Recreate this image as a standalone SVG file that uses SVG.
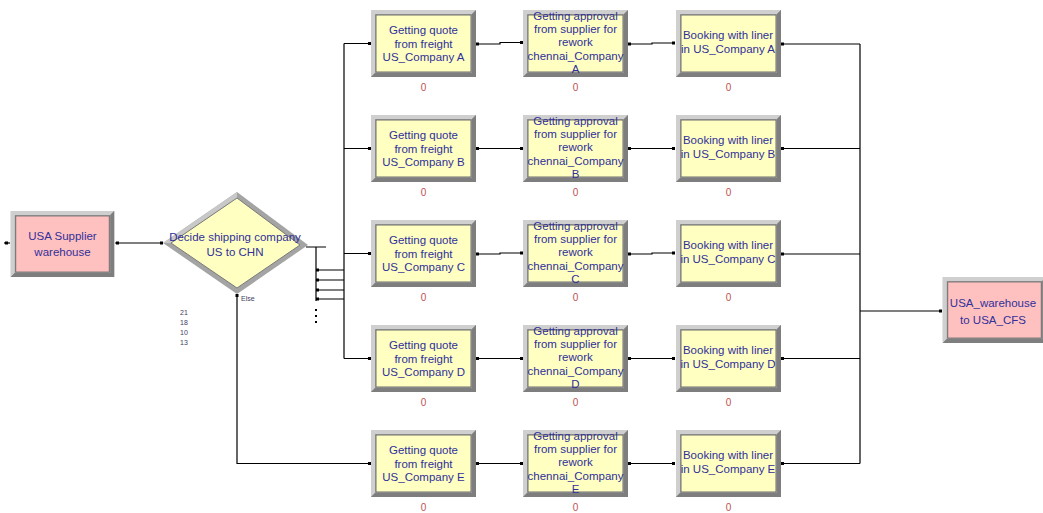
<svg xmlns="http://www.w3.org/2000/svg" xmlns:xlink="http://www.w3.org/1999/xlink" width="1043" height="513" viewBox="0 0 1043 513">
<style>
.t{font-family:"Liberation Sans",Arial,sans-serif;font-size:11.5px;fill:#30309a;text-anchor:middle}
.c{font-family:"Liberation Sans",Arial,sans-serif;font-size:10px;fill:#c05050;text-anchor:middle}
.s{font-family:"Liberation Sans",Arial,sans-serif;font-size:7px;fill:#404060}
.ln{fill:none;stroke:#000;stroke-width:1.2}
.d{fill:#000}
</style>
<defs>
<symbol id="by" viewBox="0 0 105 67">
<rect x="0" y="0" width="105" height="67" fill="#a4a4a4"/>
<polygon points="0,0 105,0 101,4 4,4 4,63 0,67" fill="#cfcfcf"/>
<polygon points="105,0 105,67 0,67 4,63 101,63 101,4" fill="#7e7e7e"/>
<rect x="5" y="5" width="95" height="57" fill="#ffffc2" stroke="#6e6e6e" stroke-width="1"/>
</symbol>
<symbol id="bp" viewBox="0 0 105 67">
<rect x="0" y="0" width="105" height="67" fill="#a4a4a4"/>
<polygon points="0,0 105,0 101,4 4,4 4,63 0,67" fill="#cfcfcf"/>
<polygon points="105,0 105,67 0,67 4,63 101,63 101,4" fill="#7e7e7e"/>
<rect x="5" y="5" width="95" height="57" fill="#ffc0c0" stroke="#6e6e6e" stroke-width="1"/>
</symbol>
</defs>

<g id="connectors">
<path class="ln" d="M4,243 H10"/>
<path class="ln" d="M115,243 H163"/>
<path class="ln" d="M306,247 H326 M316,247 V301"/>
<path class="ln" d="M316,270 H344 M316,280 H344 M316,290 H344 M316,299 H344"/>
<path class="ln" d="M344,43.5 V358.5"/>
<path class="ln" d="M344,43.5 H371 M344,148.5 H371 M344,253.5 H371 M344,358.5 H371"/>
<path class="ln" d="M237,294 V463.5 H371"/>
<path class="ln" d="M476,44 H500 V42.5 H523 M476,148.5 H523 M476,254 H500 V253 H523 M476,358.5 H523 M476,463.5 H523"/>
<path class="ln" d="M628,44 H652 V43 H675 M628,148.5 H675 M628,254 H652 V253 H675 M628,358.5 H675 M628,463.5 H675"/>
<path class="ln" d="M781,44 H860 M781,148.5 H860 M781,254 H860 M781,358.5 H860 M781,463.5 H860 M860,44 V463.5 M860,311 H942"/>
<g class="d">
<rect x="5" y="241.5" width="3" height="3"/>
<rect x="116" y="241.5" width="3" height="3"/>
<rect x="160" y="241.5" width="3" height="3"/>
<rect x="235.5" y="294" width="3" height="3"/>
<rect x="316" y="268.5" width="3" height="3"/><rect x="316" y="278.5" width="3" height="3"/><rect x="316" y="288.5" width="3" height="3"/><rect x="316" y="297.5" width="3" height="3"/>
<rect x="315" y="309" width="2" height="2"/><rect x="315" y="315" width="2" height="2"/><rect x="315" y="321" width="2" height="2"/>
<rect x="368" y="42" width="3" height="3"/><rect x="368" y="147" width="3" height="3"/><rect x="368" y="252" width="3" height="3"/><rect x="368" y="357" width="3" height="3"/><rect x="368" y="462" width="3" height="3"/>
<rect x="476" y="42.5" width="3" height="3"/><rect x="476" y="147" width="3" height="3"/><rect x="476" y="252.5" width="3" height="3"/><rect x="476" y="357" width="3" height="3"/><rect x="476" y="462" width="3" height="3"/>
<rect x="520" y="41" width="3" height="3"/><rect x="520" y="147" width="3" height="3"/><rect x="520" y="251.5" width="3" height="3"/><rect x="520" y="357" width="3" height="3"/><rect x="520" y="462" width="3" height="3"/>
<rect x="628" y="42.5" width="3" height="3"/><rect x="628" y="147" width="3" height="3"/><rect x="628" y="252.5" width="3" height="3"/><rect x="628" y="357" width="3" height="3"/><rect x="628" y="462" width="3" height="3"/>
<rect x="672" y="41.5" width="3" height="3"/><rect x="672" y="147" width="3" height="3"/><rect x="672" y="251.5" width="3" height="3"/><rect x="672" y="357" width="3" height="3"/><rect x="672" y="462" width="3" height="3"/>
<rect x="781" y="42.5" width="3" height="3"/><rect x="781" y="147" width="3" height="3"/><rect x="781" y="252.5" width="3" height="3"/><rect x="781" y="357" width="3" height="3"/><rect x="781" y="462" width="3" height="3"/>
<rect x="939" y="309.5" width="3" height="3"/>
</g>
</g>

<g id="usa_supplier">
<use xlink:href="#bp" x="10" y="211" width="105" height="66"/>
<text class="t" x="62.5" y="240">USA Supplier</text>
<text class="t" x="62.5" y="256">warehouse</text>
</g>

<g id="decide">
<polygon points="163,243 237,192 308,245 237,294" fill="#a4a4a4"/>
<polygon points="163,243 237,192 237,198 171,243" fill="#c8c8c8"/>
<polygon points="171,243 237,198 300,245 237,288" fill="#ffffc2" stroke="#7a7a7a" stroke-width="1"/>
<text class="t" x="235" y="241">Decide shipping company</text>
<text class="t" x="235" y="256">US to CHN</text>
<text class="s" x="241" y="301">Else</text>
<text class="s" x="180" y="315">21</text>
<text class="s" x="180" y="325">18</text>
<text class="s" x="180" y="335">10</text>
<text class="s" x="180" y="345">13</text>
</g>

<g id="quote_a"><use xlink:href="#by" x="371" y="10" width="105" height="67"/>
<text class="t" x="423.5" y="33.5">Getting quote</text><text class="t" x="423.5" y="47.5">from freight</text><text class="t" x="423.5" y="61">US_Company A</text><text class="c" x="423.5" y="91">0</text></g>
<g id="quote_b"><use xlink:href="#by" x="371" y="115" width="105" height="67"/>
<text class="t" x="423.5" y="138.5">Getting quote</text><text class="t" x="423.5" y="152.5">from freight</text><text class="t" x="423.5" y="166">US_Company B</text><text class="c" x="423.5" y="196">0</text></g>
<g id="quote_c"><use xlink:href="#by" x="371" y="220" width="105" height="67"/>
<text class="t" x="423.5" y="243.5">Getting quote</text><text class="t" x="423.5" y="257.5">from freight</text><text class="t" x="423.5" y="271">US_Company C</text><text class="c" x="423.5" y="301">0</text></g>
<g id="quote_d"><use xlink:href="#by" x="371" y="325" width="105" height="67"/>
<text class="t" x="423.5" y="348.5">Getting quote</text><text class="t" x="423.5" y="362.5">from freight</text><text class="t" x="423.5" y="376">US_Company D</text><text class="c" x="423.5" y="406">0</text></g>
<g id="quote_e"><use xlink:href="#by" x="371" y="430" width="105" height="67"/>
<text class="t" x="423.5" y="453.5">Getting quote</text><text class="t" x="423.5" y="467.5">from freight</text><text class="t" x="423.5" y="481">US_Company E</text><text class="c" x="423.5" y="511">0</text></g>

<g id="approval_a"><use xlink:href="#by" x="523" y="10" width="105" height="67"/>
<text class="t" x="575.5" y="20">Getting approval</text><text class="t" x="575.5" y="33">from supplier for</text><text class="t" x="575.5" y="46">rework</text><text class="t" x="575.5" y="60">chennai_Company</text><text class="t" x="575.5" y="73">A</text><text class="c" x="575.5" y="91">0</text></g>
<g id="approval_b"><use xlink:href="#by" x="523" y="115" width="105" height="67"/>
<text class="t" x="575.5" y="125">Getting approval</text><text class="t" x="575.5" y="138">from supplier for</text><text class="t" x="575.5" y="151">rework</text><text class="t" x="575.5" y="165">chennai_Company</text><text class="t" x="575.5" y="178">B</text><text class="c" x="575.5" y="196">0</text></g>
<g id="approval_c"><use xlink:href="#by" x="523" y="220" width="105" height="67"/>
<text class="t" x="575.5" y="230">Getting approval</text><text class="t" x="575.5" y="243">from supplier for</text><text class="t" x="575.5" y="256">rework</text><text class="t" x="575.5" y="270">chennai_Company</text><text class="t" x="575.5" y="283">C</text><text class="c" x="575.5" y="301">0</text></g>
<g id="approval_d"><use xlink:href="#by" x="523" y="325" width="105" height="67"/>
<text class="t" x="575.5" y="335">Getting approval</text><text class="t" x="575.5" y="348">from supplier for</text><text class="t" x="575.5" y="361">rework</text><text class="t" x="575.5" y="375">chennai_Company</text><text class="t" x="575.5" y="388">D</text><text class="c" x="575.5" y="406">0</text></g>
<g id="approval_e"><use xlink:href="#by" x="523" y="430" width="105" height="67"/>
<text class="t" x="575.5" y="440">Getting approval</text><text class="t" x="575.5" y="453">from supplier for</text><text class="t" x="575.5" y="466">rework</text><text class="t" x="575.5" y="480">chennai_Company</text><text class="t" x="575.5" y="493">E</text><text class="c" x="575.5" y="511">0</text></g>

<g id="booking_a"><use xlink:href="#by" x="676" y="10" width="105" height="67"/>
<text class="t" x="728" y="39">Booking with liner</text><text class="t" x="728" y="53">in US_Company A</text><text class="c" x="728.5" y="91">0</text></g>
<g id="booking_b"><use xlink:href="#by" x="676" y="115" width="105" height="67"/>
<text class="t" x="728" y="144">Booking with liner</text><text class="t" x="728" y="158">in US_Company B</text><text class="c" x="728.5" y="196">0</text></g>
<g id="booking_c"><use xlink:href="#by" x="676" y="220" width="105" height="67"/>
<text class="t" x="728" y="249">Booking with liner</text><text class="t" x="728" y="263">in US_Company C</text><text class="c" x="728.5" y="301">0</text></g>
<g id="booking_d"><use xlink:href="#by" x="676" y="325" width="105" height="67"/>
<text class="t" x="728" y="354">Booking with liner</text><text class="t" x="728" y="368">in US_Company D</text><text class="c" x="728.5" y="406">0</text></g>
<g id="booking_e"><use xlink:href="#by" x="676" y="430" width="105" height="67"/>
<text class="t" x="728" y="459">Booking with liner</text><text class="t" x="728" y="473">in US_Company E</text><text class="c" x="728.5" y="511">0</text></g>

<g id="usa_warehouse">
<use xlink:href="#bp" x="942" y="277" width="105" height="66"/>
<text class="t" x="993" y="307">USA_warehouse</text>
<text class="t" x="993" y="324">to USA_CFS</text>
</g>
</svg>
